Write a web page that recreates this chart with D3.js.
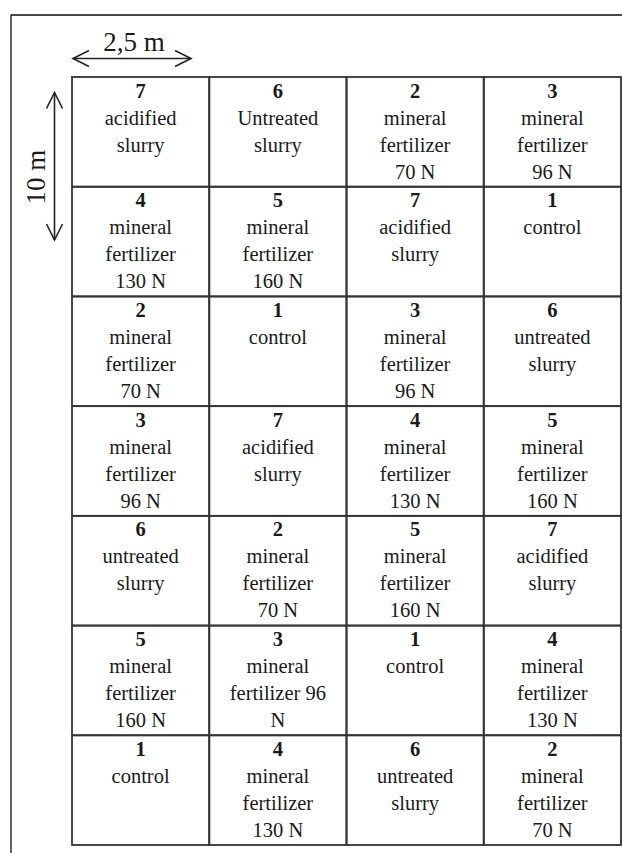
<!DOCTYPE html>
<html>
<head>
<meta charset="utf-8">
<script src="https://cdn.jsdelivr.net/npm/d3@7"></script>
<style>
  html, body { margin: 0; padding: 0; background: #fff; }
  svg { display: block; }
  text { font-family: "Liberation Serif", "Times New Roman", serif; fill: #1a1a1a; }
</style>
</head>
<body>
<svg id="chart" width="622" height="853"></svg>
<script>
// ---- data ----
const columns = [0, 1, 2, 3];
const rows = [0, 1, 2, 3, 4, 5, 6];
const layout = [
  [7, 6, 2, 3],
  [4, 5, 7, 1],
  [2, 1, 3, 6],
  [3, 7, 4, 5],
  [6, 2, 5, 7],
  [5, 3, 1, 4],
  [1, 4, 6, 2]
];
const treatmentLabels = {
  1: ["control"],
  2: ["mineral", "fertilizer", "70 N"],
  3: ["mineral", "fertilizer", "96 N"],
  4: ["mineral", "fertilizer", "130 N"],
  5: ["mineral", "fertilizer", "160 N"],
  6: ["untreated", "slurry"],
  7: ["acidified", "slurry"]
};
const labelOverrides = [
  { row: 0, col: 1, lines: ["Untreated", "slurry"] },
  { row: 5, col: 1, lines: ["mineral", "fertilizer 96", "N"] }
];
const widthLabel = "2,5 m";
const lengthLabel = "10 m";

// ---- drawing ----
const svg = d3.select("#chart");
const x = d3.scaleBand().domain(columns).range([72, 621]).padding(0);
const y = d3.scaleBand().domain(rows).range([77, 845]).padding(0);

// outer frame (top and left only visible)
svg.append("path")
  .attr("d", "M11,853 L11,15 L622,15")
  .attr("fill", "none").attr("stroke", "#111").attr("stroke-width", 1.3);

const cells = [];
rows.forEach(r => columns.forEach(c => {
  const ov = labelOverrides.find(o => o.row === r && o.col === c);
  const t = layout[r][c];
  cells.push({ row: r, col: c, treatment: t, lines: ov ? ov.lines : treatmentLabels[t] });
}));

const g = svg.append("g");
const cell = g.selectAll("g.cell").data(cells).join("g").attr("class", "cell")
  .attr("transform", d => `translate(${x(d.col)},${y(d.row)})`);

cell.append("rect")
  .attr("width", x.bandwidth()).attr("height", y.bandwidth())
  .attr("fill", "none").attr("stroke", "#333").attr("stroke-width", 1.8);

cell.append("text")
  .attr("x", x.bandwidth() / 2).attr("y", 20.5)
  .attr("text-anchor", "middle")
  .attr("font-size", 20.5).attr("font-weight", "bold")
  .text(d => d.treatment);

cell.each(function(d) {
  d3.select(this).selectAll("text.line").data(d.lines).join("text").attr("class", "line")
    .attr("x", x.bandwidth() / 2)
    .attr("y", (l, i) => 47.5 + i * 27)
    .attr("text-anchor", "middle")
    .attr("font-size", 20.5)
    .text(l => l);
});

// dimension arrows
function arrowHead(px, py, angle) {
  // open chevron pointing in direction angle (radians)
  const L = 16, W = 8;
  const ca = Math.cos(angle), sa = Math.sin(angle);
  const bx = px - L * ca, by = py - L * sa;
  const p1 = [bx - W * sa, by + W * ca];
  const p2 = [bx + W * sa, by - W * ca];
  return `M${p1[0]},${p1[1]} L${px},${py} L${p2[0]},${p2[1]}`;
}
const arr = svg.append("g").attr("fill", "none").attr("stroke", "#222").attr("stroke-width", 1.6);
const hx0 = x(0) + 1, hx1 = x(0) + 119, hy = 58.5;
arr.append("line").attr("x1", hx0).attr("y1", hy).attr("x2", hx1).attr("y2", hy);
arr.append("path").attr("d", arrowHead(hx0, hy, Math.PI));
arr.append("path").attr("d", arrowHead(hx1, hy, 0));

const vx = 54.5, vy0 = 92.5, vy1 = 240;
arr.append("line").attr("x1", vx).attr("y1", vy0).attr("x2", vx).attr("y2", vy1);
arr.append("path").attr("d", arrowHead(vx, vy0, -Math.PI / 2));
arr.append("path").attr("d", arrowHead(vx, vy1, Math.PI / 2));

svg.append("text")
  .attr("x", (hx0 + hx1) / 2 + 2).attr("y", 51)
  .attr("text-anchor", "middle").attr("font-size", 27)
  .text(widthLabel);

svg.append("text")
  .attr("transform", `translate(44.5,177) rotate(-90)`)
  .attr("text-anchor", "middle").attr("font-size", 27)
  .text(lengthLabel);
</script>
</body>
</html>
